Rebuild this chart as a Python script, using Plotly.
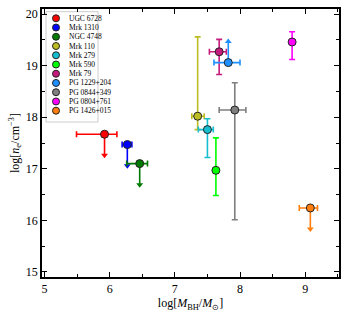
import plotly.graph_objects as go

names = ["UGC 6728", "Mrk 1310", "NGC 4748", "Mrk 110", "Mrk 279", "Mrk 590",
         "Mrk 79", "PG 1229+204", "PG 0844+349", "PG 0804+761", "PG 1426+015"]
colors = ["#ff0000", "#0000ff", "#007a00", "#bcbd22", "#17becf", "#00ff00",
          "#c51b7d", "#1e90ff", "#7f7f7f", "#ff00ff", "#ff7f0e"]
mbh = [5.92, 6.27, 6.46, 7.35, 7.50, 7.63, 7.68, 7.82, 7.92, 8.80, 9.08]
mbh_lo = [0.43, 0.08, 0.20, 0.09, 0.14, 0.03, 0.15, 0.22, 0.24, 0.0, 0.17]
mbh_hi = [0.19, 0.07, 0.12, 0.10, 0.09, 0.03, 0.11, 0.18, 0.17, 0.0, 0.11]
ne = [17.67, 17.47, 17.10, 18.02, 17.76, 16.97, 19.27, 19.06, 18.14, 19.46, 16.24]
ne_lo = [0, 0, 0, 0.26, 0.54, 0.49, 0.44, 0, 2.13, 0.34, 0]
ne_hi = [0, 0, 0, 1.54, 0.21, 0.63, 0.24, 0, 0.53, 0.20, 0]
limit = ["upper", "upper", "upper", None, None, None, None, "lower", None, None, "upper"]
arrow_len = 0.41

FONT = "Liberation Serif"
fig = go.Figure()

for i, n in enumerate(names):
    c = colors[i]
    if limit[i] == "upper":
        ey = dict(type="data", symmetric=False, array=[0], arrayminus=[arrow_len],
                  color=c, thickness=1.6, width=0)
    elif limit[i] == "lower":
        ey = dict(type="data", symmetric=False, array=[arrow_len], arrayminus=[0],
                  color=c, thickness=1.6, width=0)
    elif ne_lo[i] or ne_hi[i]:
        ey = dict(type="data", symmetric=False, array=[ne_hi[i]], arrayminus=[ne_lo[i]],
                  color=c, thickness=1.6, width=3)
    else:
        ey = dict(visible=False)
    if mbh_lo[i] or mbh_hi[i]:
        ex = dict(type="data", symmetric=False, array=[mbh_hi[i]], arrayminus=[mbh_lo[i]],
                  color=c, thickness=1.6, width=3)
    else:
        ex = dict(visible=False)
    fig.add_trace(go.Scatter(x=[mbh[i]], y=[ne[i]], mode="markers", error_x=ex, error_y=ey,
                             marker=dict(size=8, color=c, line=dict(color="#222", width=1)),
                             showlegend=False, hoverinfo="skip"))
    if limit[i]:
        sgn = -1 if limit[i] == "upper" else 1
        fig.add_trace(go.Scatter(x=[mbh[i]], y=[ne[i] + sgn * arrow_len], mode="markers",
                                 marker=dict(symbol="triangle-down" if sgn < 0 else "triangle-up",
                                             size=6, color=c, line=dict(width=0)),
                                 showlegend=False, hoverinfo="skip"))

# manual compact legend on an overlay pixel-space axis
L, T, W, H = 42, 9, 297, 268
leg_y = [9.3 + 9.24 * k for k in range(len(names))]
fig.add_trace(go.Scatter(x=[14] * len(names), y=leg_y, mode="markers", xaxis="x2", yaxis="y2",
                         marker=dict(size=7, color=colors, line=dict(color="#222", width=1)),
                         showlegend=False, hoverinfo="skip"))
for k, n in enumerate(names):
    fig.add_annotation(x=25, y=leg_y[k], xref="x2", yref="y2", text=n, showarrow=False,
                       xanchor="left", yanchor="middle",
                       font=dict(family=FONT, size=7.5, color="black"))
fig.add_shape(type="rect", xref="x2", yref="y2", x0=4, x1=56, y0=2.7, y1=113,
              line=dict(color="#cccccc", width=1), fillcolor="rgba(255,255,255,0.8)", layer="below")

ax_common = dict(showgrid=False, zeroline=False, ticks="inside", mirror="allticks",
                 showline=True, linecolor="black", linewidth=1.5, ticklen=5, tickwidth=1.2,
                 tickcolor="black", automargin=False,
                 tickfont=dict(family=FONT, size=12, color="black"))
fig.update_layout(
    width=350, height=315,
    margin=dict(l=L, r=350 - L - W, t=T, b=315 - T - H, autoexpand=False),
    paper_bgcolor="white", plot_bgcolor="white",
    xaxis=dict(range=[4.96, 9.52], dtick=1, tick0=5,
               minor=dict(ticks="inside", dtick=0.5, ticklen=3, tickcolor="black"),
               title=dict(text="log[<i>M</i><sub>BH</sub>/<i>M</i><sub>⊙</sub>]",
                          font=dict(family=FONT, size=12, color="black"), standoff=2),
               **ax_common),
    yaxis=dict(range=[14.9, 20.1], dtick=1, tick0=15,
               minor=dict(ticks="inside", dtick=0.5, ticklen=3, tickcolor="black"),
               title=dict(text="log[<i>n</i><sub>e</sub>/cm<sup>−3</sup>]",
                          font=dict(family=FONT, size=12, color="black"), standoff=4),
               **ax_common),
    xaxis2=dict(range=[0, W], overlaying="x", visible=False, domain=[0, 1]),
    yaxis2=dict(range=[H, 0], overlaying="y", visible=False, domain=[0, 1]),
    showlegend=False,
)

fig.write_html("out.html", config={"displayModeBar": False},
               post_script="document.body.style.margin='0';")
